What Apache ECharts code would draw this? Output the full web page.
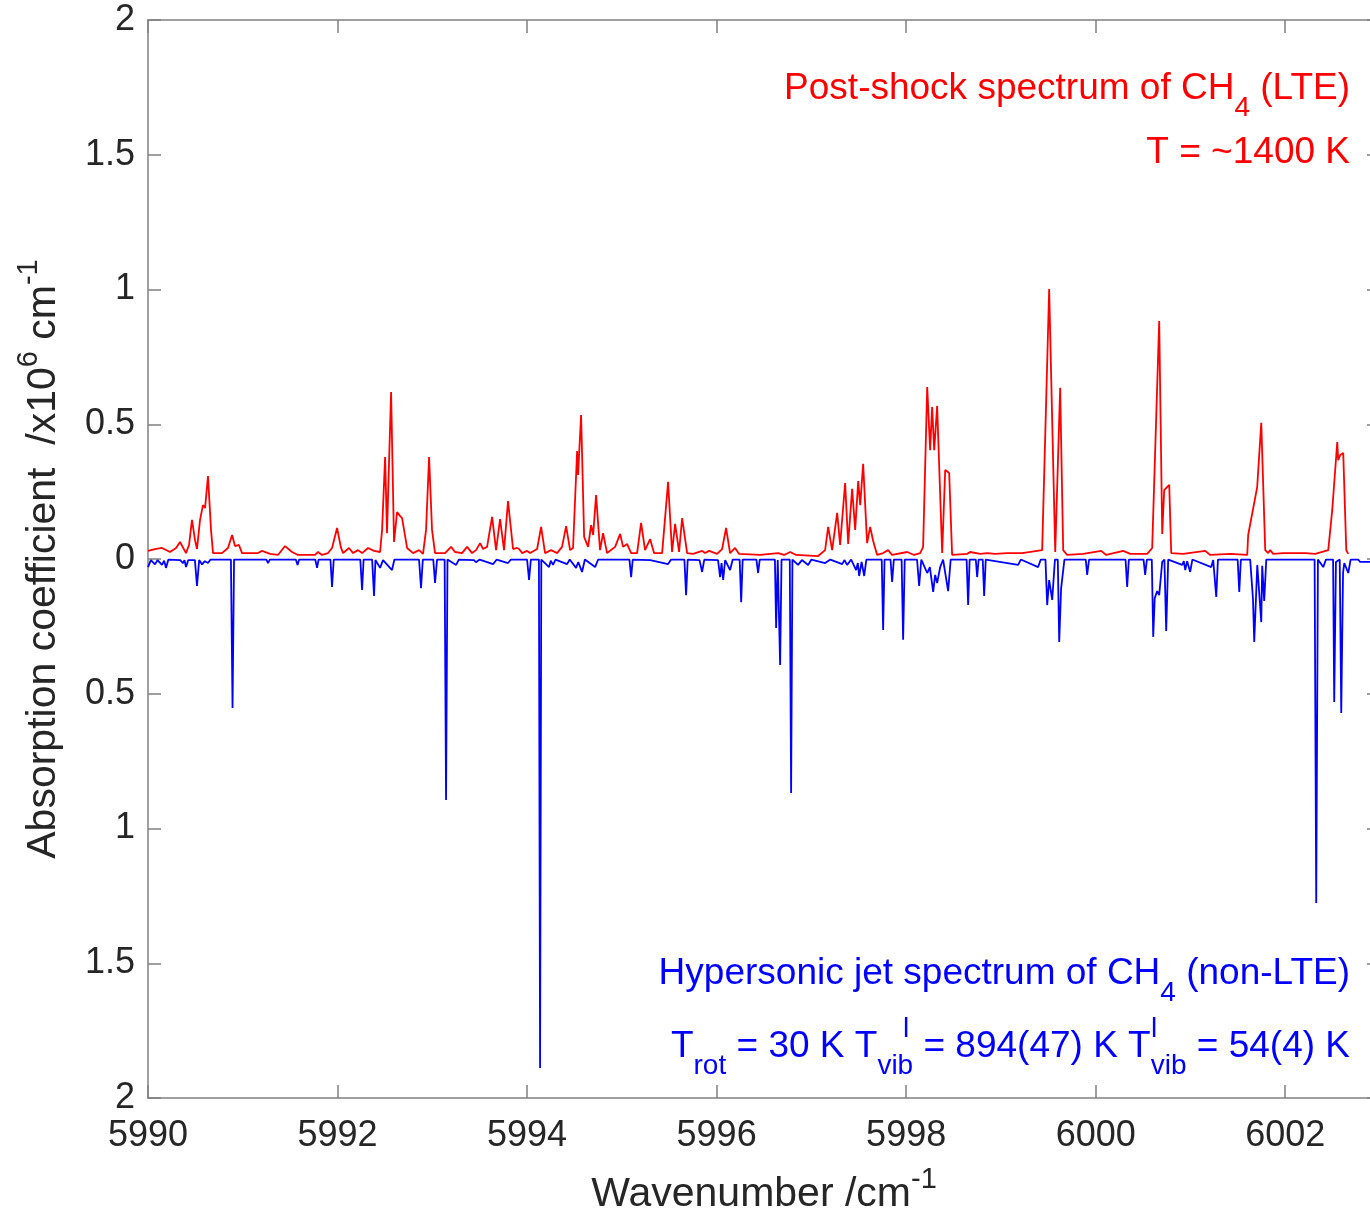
<!DOCTYPE html>
<html>
<head>
<meta charset="utf-8">
<script src="https://cdn.jsdelivr.net/npm/echarts@6/dist/echarts.min.js"></script>
<style>
html,body{margin:0;padding:0;background:#fff;overflow:hidden;}
#c{width:1370px;height:1216px;}
</style>
</head>
<body>
<div id="c"></div>
<script>
// Wavenumber axis ticks
const xTicks = [5990, 5992, 5994, 5996, 5998, 6000, 6002];
const yTickLabels = ['2', '1.5', '1', '0.5', '0', '0.5', '1', '1.5', '2'];

// Post-shock spectrum (LTE), [wavenumber, absorption]
const postShock = [[5990.000,0.030],[5990.074,0.037],[5990.148,0.041],[5990.232,0.026],[5990.296,0.041],[5990.338,0.063],[5990.401,0.022],[5990.433,0.052],[5990.464,0.145],[5990.496,0.070],[5990.517,0.037],[5990.549,0.145],[5990.580,0.200],[5990.602,0.189],[5990.633,0.308],[5990.665,0.108],[5990.686,0.022],[5990.781,0.022],[5990.844,0.041],[5990.887,0.089],[5990.918,0.048],[5990.960,0.052],[5990.992,0.022],[5991.161,0.022],[5991.203,0.030],[5991.288,0.019],[5991.372,0.015],[5991.446,0.048],[5991.520,0.026],[5991.583,0.015],[5991.763,0.015],[5991.794,0.026],[5991.836,0.015],[5991.900,0.022],[5991.942,0.041],[5991.995,0.115],[5992.037,0.041],[5992.058,0.022],[5992.121,0.041],[5992.164,0.022],[5992.216,0.033],[5992.259,0.022],[5992.322,0.041],[5992.385,0.030],[5992.449,0.026],[5992.470,0.108],[5992.502,0.378],[5992.522,0.096],[5992.565,0.620],[5992.596,0.063],[5992.628,0.174],[5992.659,0.160],[5992.681,0.152],[5992.734,0.041],[5992.797,0.022],[5992.860,0.033],[5992.902,0.019],[5992.934,0.108],[5992.966,0.378],[5992.997,0.108],[5993.029,0.022],[5993.135,0.022],[5993.198,0.045],[5993.240,0.026],[5993.314,0.022],[5993.367,0.045],[5993.420,0.022],[5993.462,0.033],[5993.504,0.059],[5993.536,0.037],[5993.578,0.045],[5993.599,0.048],[5993.631,0.156],[5993.673,0.033],[5993.715,0.148],[5993.757,0.033],[5993.799,0.215],[5993.852,0.037],[5993.894,0.041],[5993.916,0.037],[5993.947,0.022],[5994.000,0.030],[5994.032,0.022],[5994.106,0.037],[5994.148,0.119],[5994.190,0.022],[5994.253,0.033],[5994.317,0.022],[5994.369,0.045],[5994.412,0.122],[5994.454,0.033],[5994.485,0.041],[5994.528,0.401],[5994.538,0.312],[5994.570,0.534],[5994.602,0.082],[5994.644,0.045],[5994.675,0.126],[5994.697,0.089],[5994.728,0.237],[5994.770,0.033],[5994.802,0.096],[5994.844,0.022],[5994.929,0.045],[5994.982,0.093],[5995.013,0.045],[5995.055,0.056],[5995.098,0.022],[5995.161,0.022],[5995.203,0.134],[5995.245,0.033],[5995.298,0.074],[5995.340,0.022],[5995.425,0.022],[5995.488,0.286],[5995.530,0.026],[5995.562,0.130],[5995.604,0.026],[5995.636,0.152],[5995.689,0.022],[5995.752,0.019],[5995.847,0.030],[5995.879,0.022],[5995.921,0.030],[5996.005,0.019],[5996.058,0.037],[5996.100,0.115],[5996.142,0.022],[5996.195,0.041],[5996.237,0.019],[5996.459,0.015],[5996.649,0.022],[5996.712,0.015],[5996.776,0.026],[5996.839,0.015],[5997.071,0.011],[5997.145,0.033],[5997.177,0.119],[5997.219,0.033],[5997.272,0.171],[5997.303,0.052],[5997.356,0.282],[5997.388,0.056],[5997.430,0.260],[5997.462,0.108],[5997.494,0.289],[5997.515,0.200],[5997.546,0.353],[5997.588,0.059],[5997.620,0.119],[5997.652,0.067],[5997.694,0.015],[5997.757,0.022],[5997.810,0.033],[5997.852,0.015],[5998.011,0.026],[5998.084,0.015],[5998.148,0.022],[5998.179,0.045],[5998.222,0.638],[5998.253,0.404],[5998.274,0.564],[5998.296,0.404],[5998.327,0.568],[5998.380,0.022],[5998.412,0.330],[5998.454,0.319],[5998.485,0.015],[5998.644,0.019],[5998.675,0.026],[5998.781,0.019],[5998.855,0.022],[5998.939,0.019],[5999.066,0.022],[5999.224,0.022],[5999.435,0.033],[5999.509,1.002],[5999.573,0.026],[5999.625,0.635],[5999.657,0.033],[5999.699,0.015],[5999.868,0.019],[6000.058,0.030],[6000.111,0.015],[6000.290,0.030],[6000.364,0.019],[6000.544,0.019],[6000.596,0.041],[6000.670,0.883],[6000.702,0.093],[6000.723,0.256],[6000.776,0.275],[6000.797,0.022],[6000.923,0.019],[6001.156,0.030],[6001.208,0.015],[6001.420,0.019],[6001.599,0.015],[6001.609,0.089],[6001.704,0.267],[6001.747,0.505],[6001.789,0.033],[6001.820,0.022],[6001.841,0.033],[6001.873,0.019],[6001.979,0.022],[6002.211,0.022],[6002.317,0.019],[6002.454,0.033],[6002.496,0.182],[6002.549,0.434],[6002.559,0.367],[6002.580,0.386],[6002.612,0.393],[6002.644,0.033],[6002.665,0.019]];

// Hypersonic jet spectrum (non-LTE), plotted downward, [wavenumber, -absorption]
const hypersonicJet = [[5990.000,-0.030],[5990.030,-0.004],[5990.074,-0.020],[5990.100,-0.004],[5990.148,-0.022],[5990.170,-0.006],[5990.190,-0.033],[5990.215,-0.002],[5990.340,-0.004],[5990.369,-0.015],[5990.385,-0.004],[5990.401,-0.030],[5990.425,-0.004],[5990.495,-0.004],[5990.517,-0.100],[5990.540,-0.004],[5990.570,-0.020],[5990.600,-0.008],[5990.633,-0.015],[5990.660,-0.002],[5990.875,-0.002],[5990.892,-0.553],[5990.908,-0.002],[5991.250,-0.002],[5991.266,-0.015],[5991.285,-0.002],[5991.560,-0.002],[5991.578,-0.022],[5991.595,-0.002],[5991.765,-0.002],[5991.784,-0.033],[5991.800,-0.002],[5991.925,-0.002],[5991.942,-0.104],[5991.960,-0.002],[5992.240,-0.002],[5992.259,-0.115],[5992.275,-0.002],[5992.365,-0.002],[5992.385,-0.137],[5992.400,-0.004],[5992.449,-0.033],[5992.480,-0.004],[5992.575,-0.041],[5992.600,-0.002],[5992.860,-0.002],[5992.881,-0.108],[5992.900,-0.002],[5993.010,-0.002],[5993.029,-0.089],[5993.050,-0.002],[5993.130,-0.002],[5993.145,-0.894],[5993.160,-0.002],[5993.251,-0.022],[5993.280,-0.002],[5993.440,-0.004],[5993.460,-0.012],[5993.500,-0.002],[5993.641,-0.019],[5993.680,-0.002],[5993.799,-0.015],[5993.830,-0.002],[5994.000,-0.002],[5994.021,-0.078],[5994.040,-0.002],[5994.125,-0.002],[5994.137,-1.889],[5994.150,-0.002],[5994.232,-0.030],[5994.250,-0.006],[5994.274,-0.022],[5994.300,-0.002],[5994.422,-0.019],[5994.450,-0.002],[5994.517,-0.033],[5994.540,-0.011],[5994.580,-0.048],[5994.610,-0.002],[5994.718,-0.030],[5994.750,-0.002],[5995.080,-0.002],[5995.098,-0.067],[5995.115,-0.002],[5995.300,-0.004],[5995.488,-0.019],[5995.520,-0.002],[5995.660,-0.002],[5995.678,-0.134],[5995.695,-0.002],[5995.820,-0.004],[5995.847,-0.048],[5995.870,-0.002],[5996.015,-0.004],[5996.037,-0.067],[5996.052,-0.015],[5996.069,-0.078],[5996.090,-0.004],[5996.142,-0.041],[5996.170,-0.002],[5996.243,-0.002],[5996.259,-0.160],[5996.275,-0.002],[5996.420,-0.002],[5996.438,-0.052],[5996.455,-0.002],[5996.615,-0.002],[5996.628,-0.256],[5996.645,-0.004],[5996.657,-0.004],[5996.670,-0.393],[5996.685,-0.002],[5996.772,-0.002],[5996.786,-0.868],[5996.800,-0.002],[5996.860,-0.022],[5996.900,-0.004],[5996.966,-0.022],[5997.000,-0.002],[5997.145,-0.015],[5997.200,-0.002],[5997.325,-0.019],[5997.350,-0.004],[5997.377,-0.022],[5997.420,-0.002],[5997.472,-0.041],[5997.490,-0.015],[5997.504,-0.063],[5997.530,-0.011],[5997.557,-0.063],[5997.580,-0.002],[5997.742,-0.002],[5997.757,-0.263],[5997.772,-0.002],[5997.835,-0.002],[5997.852,-0.085],[5997.870,-0.002],[5997.952,-0.002],[5997.968,-0.300],[5997.985,-0.002],[5998.115,-0.002],[5998.137,-0.100],[5998.160,-0.002],[5998.222,-0.052],[5998.250,-0.030],[5998.285,-0.122],[5998.306,-0.059],[5998.327,-0.089],[5998.359,-0.030],[5998.390,-0.002],[5998.443,-0.119],[5998.470,-0.002],[5998.638,-0.002],[5998.654,-0.171],[5998.670,-0.002],[5998.735,-0.002],[5998.749,-0.067],[5998.765,-0.002],[5998.808,-0.002],[5998.823,-0.137],[5998.840,-0.002],[5999.182,-0.022],[5999.210,-0.002],[5999.393,-0.030],[5999.420,-0.002],[5999.470,-0.002],[5999.488,-0.171],[5999.509,-0.078],[5999.541,-0.152],[5999.570,-0.002],[5999.600,-0.002],[5999.615,-0.308],[5999.635,-0.110],[5999.646,-0.104],[5999.670,-0.002],[5999.895,-0.002],[5999.910,-0.059],[5999.930,-0.002],[6000.315,-0.002],[6000.332,-0.104],[6000.350,-0.002],[6000.505,-0.002],[6000.522,-0.059],[6000.540,-0.002],[6000.592,-0.002],[6000.607,-0.289],[6000.623,-0.145],[6000.649,-0.119],[6000.670,-0.134],[6000.702,-0.011],[6000.725,-0.002],[6000.744,-0.267],[6000.765,-0.002],[6000.913,-0.022],[6000.930,-0.008],[6000.945,-0.041],[6000.965,-0.008],[6000.997,-0.048],[6001.020,-0.002],[6001.219,-0.030],[6001.240,-0.004],[6001.257,-0.004],[6001.272,-0.141],[6001.290,-0.002],[6001.498,-0.002],[6001.515,-0.122],[6001.532,-0.002],[6001.630,-0.002],[6001.660,-0.150],[6001.673,-0.308],[6001.705,-0.022],[6001.747,-0.234],[6001.757,-0.025],[6001.778,-0.156],[6001.800,-0.002],[6002.310,-0.002],[6002.327,-1.276],[6002.345,-0.002],[6002.401,-0.030],[6002.430,-0.002],[6002.505,-0.002],[6002.517,-0.531],[6002.535,-0.011],[6002.549,-0.011],[6002.575,-0.002],[6002.591,-0.571],[6002.610,-0.052],[6002.623,-0.015],[6002.665,-0.052],[6002.690,-0.002],[6002.770,-0.002],[6002.791,-0.011],[6002.897,-0.011]];

const FONT = '"Liberation Sans", Arial, Helvetica, sans-serif';
const AX = '#808080';
const TXT = '#262626';

const chart = echarts.init(document.getElementById('c'), null, {renderer: 'canvas'});

const xCommon = {
  type: 'value', min: 5990, max: 6003, interval: 2,
  axisLine: {show: true, onZero: false, lineStyle: {color: AX, width: 1.5}},
  axisTick: {show: true, inside: true, length: 13, lineStyle: {color: AX, width: 1.5}},
  splitLine: {show: false}
};
const yCommon = {
  type: 'value', min: -2, max: 2, interval: 0.5,
  axisLine: {show: true, onZero: false, lineStyle: {color: AX, width: 1.5}},
  axisTick: {show: true, inside: true, length: 13, lineStyle: {color: AX, width: 1.5}},
  splitLine: {show: false}
};

const mainRich = (col) => ({
  m: {fontSize: 37, fontFamily: FONT, fill: col, color: col, lineHeight: 66, verticalAlign: 'middle'},
  s: {fontSize: 28, fontFamily: FONT, fill: col, color: col, lineHeight: 28, verticalAlign: 'bottom'}
});

const option = {
  animation: false,
  backgroundColor: '#fff',
  grid: {left: 148, right: -10, top: 20, bottom: 118, containLabel: false, outerBoundsMode: 'none'},
  xAxis: [
    Object.assign({}, xCommon, {
      position: 'bottom',
      axisLabel: {
        fontSize: 36, fontFamily: FONT, color: TXT, margin: 20,
        formatter: v => (xTicks.indexOf(v) >= 0 ? String(v) : '')
      },
      name: 'Wavenumber /cm{sup|-1}',
      nameLocation: 'middle', nameGap: 67,
      nameTextStyle: {
        fontSize: 41, fontFamily: FONT, color: TXT, lineHeight: 60,
        rich: {sup: {fontSize: 29, fontFamily: FONT, color: TXT, lineHeight: 29, verticalAlign: 'top'}}
      }
    }),
    Object.assign({}, xCommon, {position: 'top', axisLabel: {show: false}})
  ],
  yAxis: [
    Object.assign({}, yCommon, {
      position: 'left',
      axisLabel: {
        fontSize: 36, fontFamily: FONT, color: TXT, margin: 13,
        formatter: v => yTickLabels[Math.round((2 - v) / 0.5)]
      },
      name: 'Absorption coefficient  /x10{sup|6} cm{sup|-1}',
      nameLocation: 'middle', nameGap: 72,
      nameTextStyle: {
        fontSize: 41, fontFamily: FONT, color: TXT, lineHeight: 60,
        rich: {sup: {fontSize: 29, fontFamily: FONT, color: TXT, lineHeight: 29, verticalAlign: 'top'}}
      }
    }),
    Object.assign({}, yCommon, {position: 'right', axisLabel: {show: false}})
  ],
  series: [
    {
      type: 'line', name: 'Hypersonic jet', data: hypersonicJet, showSymbol: false,
      xAxisIndex: 0, yAxisIndex: 0,
      lineStyle: {color: '#0000ff', width: 1.8}, itemStyle: {color: '#0000ff'}, z: 2
    },
    {
      type: 'line', name: 'Post-shock', data: postShock, showSymbol: false,
      xAxisIndex: 0, yAxisIndex: 0,
      lineStyle: {color: '#ff0000', width: 1.8}, itemStyle: {color: '#ff0000'}, z: 3
    }
  ],
  graphic: [
    {
      type: 'text', x: 1350, y: 89,
      style: {
        text: '{m|Post-shock spectrum of CH}{s|4}{m| (LTE)}',
        textAlign: 'right', textVerticalAlign: 'middle', rich: mainRich('#ff0000')
      }
    },
    {
      type: 'text', x: 1350, y: 153,
      style: {text: 'T = ~1400 K', textAlign: 'right', textVerticalAlign: 'middle',
        fontSize: 37, fontFamily: FONT, fill: '#ff0000'}
    },
    {
      type: 'text', x: 1350, y: 974,
      style: {
        text: '{m|Hypersonic jet spectrum of CH}{s|4}{m| (non-LTE)}',
        textAlign: 'right', textVerticalAlign: 'middle', rich: mainRich('#0000ff')
      }
    },
    {
      type: 'text', x: 1350, y: 1047,
      style: {
        text: '{m|T}{s|rot}{m| = 30 K T}{s|vib}{m| = 894(47) K T}{s|vib}{m| = 54(4) K}',
        textAlign: 'right', textVerticalAlign: 'middle', rich: mainRich('#0000ff')
      }
    },
    {
      type: 'text', x: 906, y: 1029,
      style: {text: 'l', textAlign: 'center', textVerticalAlign: 'middle', fontSize: 28, fontFamily: FONT, fill: '#0000ff'}
    },
    {
      type: 'text', x: 1154, y: 1029,
      style: {text: 'l', textAlign: 'center', textVerticalAlign: 'middle', fontSize: 28, fontFamily: FONT, fill: '#0000ff'}
    }
  ]
};
chart.setOption(option);
</script>
</body>
</html>
